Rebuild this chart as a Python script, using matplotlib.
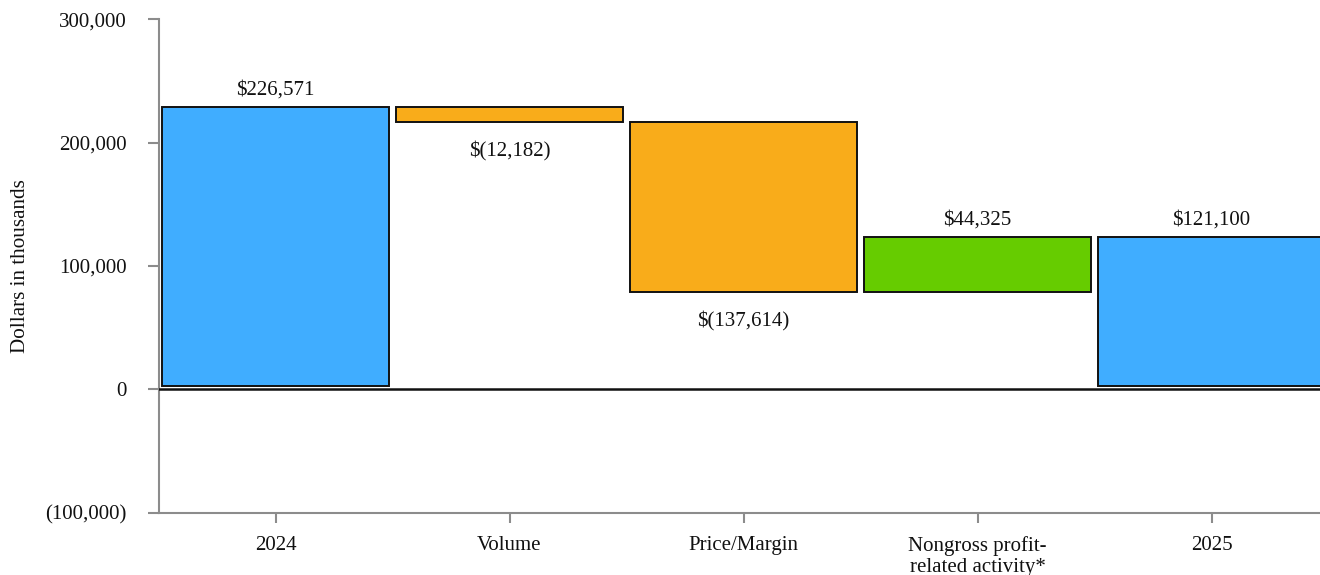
import matplotlib
matplotlib.use("Agg")
import matplotlib.pyplot as plt
from matplotlib.transforms import ScaledTranslation
import numpy as np

categories = ["2024", "Volume", "Price/Margin", "Nongross profit-\nrelated activity*", "2025"]
changes = [226571, -12182, -137614, 44325, 121100]
kinds = ["total", "delta", "delta", "delta", "total"]
labels = ["$226,571", "$(12,182)", "$(137,614)", "$44,325", "$121,100"]
yticks = [-100000, 0, 100000, 200000, 300000]
ytick_labels = ["(100,000)", "0", "100,000", "200,000", "300,000"]

BLUE = "#40ADFF"
ORANGE = "#F9AC1A"
GREEN = "#66CC00"
GRAY = "#8c8c8c"

plt.rcParams["font.family"] = ["Liberation Serif", "DejaVu Serif"]

W, H = 1320, 575
fig = plt.figure(figsize=(W / 100, H / 100), dpi=100)
left_px, right_px, top_px, bot_px = 158.5, 1328.5, 19.3, 512.7
ax = fig.add_axes([left_px / W, 1 - bot_px / H, (right_px - left_px) / W, (bot_px - top_px) / H])

x = np.arange(len(categories))
bottoms, heights, colors = [], [], []
running = 0
for c, k in zip(changes, kinds):
    if k == "total":
        bottoms.append(0)
        heights.append(c)
        colors.append(BLUE)
        running = c
    else:
        if c >= 0:
            bottoms.append(running)
            heights.append(c)
            colors.append(GREEN)
        else:
            bottoms.append(running + c)
            heights.append(-c)
            colors.append(ORANGE)
        running += c

shift = ax.transData + ScaledTranslation(0, 3 / 100, fig.dpi_scale_trans)
bars = ax.bar(x, heights, bottom=bottoms, width=0.97, color=colors,
              edgecolor="#111111", linewidth=1.4, zorder=2, transform=shift)

ax.axhline(0, color="#111111", linewidth=1.8, zorder=3)

for xi, c, k, b, h, lab in zip(x, changes, kinds, bottoms, heights, labels):
    if c >= 0:
        ax.annotate(lab, (xi, b + h), xytext=(0, 14.3), textcoords="offset points",
                    ha="center", va="center", fontsize=15, color="#111111")
    else:
        ax.annotate(lab, (xi, b), xytext=(0, -19.0), textcoords="offset points",
                    ha="center", va="center", fontsize=15, color="#111111")

ax.set_xlim(-0.5, len(categories) - 0.5)
ax.set_ylim(-100000, 300000)
ax.set_yticks(yticks)
ax.set_yticklabels(ytick_labels, fontsize=15)
ax.set_xticks(x)
ax.set_xticklabels(categories, fontsize=15, linespacing=1.2)

for s in ["top", "right"]:
    ax.spines[s].set_visible(False)
for s in ["left", "bottom"]:
    ax.spines[s].set_color(GRAY)
    ax.spines[s].set_linewidth(1.5)
ax.tick_params(axis="y", length=8, width=1.5, color=GRAY, pad=15, labelcolor="#111111")
ax.tick_params(axis="x", length=7.5, width=1.5, color=GRAY, pad=9, labelcolor="#111111")

ax.set_ylabel("Dollars in thousands", fontsize=15.2, color="#111111")
ax.yaxis.set_label_coords((30 - left_px) / (right_px - left_px), 0.5)

fig.savefig("out.png", dpi=100)
